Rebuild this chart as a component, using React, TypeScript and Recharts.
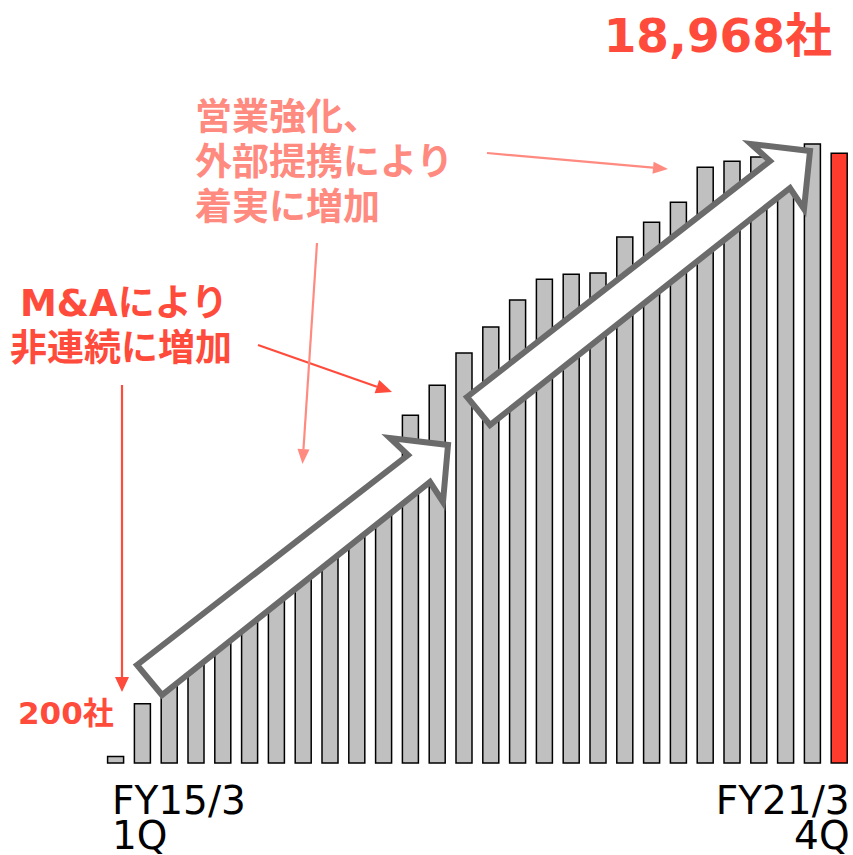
import React from "react"
import { BarChart, Bar, XAxis, YAxis, Cell } from "recharts"

// Quarter labels, FY15/3 1Q .. FY21/3 4Q
const fiscalYears = ["FY15/3", "FY16/3", "FY17/3", "FY18/3", "FY19/3", "FY20/3", "FY21/3"]
const quarters = ["1Q", "2Q", "3Q", "4Q"]

// Number of client companies per quarter
const companies = [
  200, 1840, 2950, 3750, 4400, 5100, 5700, 6350, 7050, 7700, 8450, 10820, 11750, 12750,
  13560, 14400, 15050, 15200, 15240, 16360, 16820, 17440, 18530, 18720, 18850, 19050,
  19250, 18968,
]

const categories = fiscalYears.flatMap((fy) => quarters.map((q) => `${fy} ${q}`))
const data = categories.map((name, i) => ({ name, value: companies[i] }))

const RED = "#ff4b3b"
const PINK = "#ff8a80"
const BAR_GRAY = "#c0c0c0"
const BAR_RED = "#ff3b2e"
const ARROW_GRAY = "#6b6b6b"
const JP_FONT = "'DejaVu Sans', 'Noto Sans CJK JP', sans-serif"

const XTick = (props: any) => {
  const { x, y, index } = props
  const last = data.length - 1
  if (index !== 0 && index !== last) return <g />
  const [fy, q] = data[index].name.split(" ")
  const anchor = index === 0 ? "start" : "end"
  const tx = index === 0 ? x - 4 : x + 10
  return (
    <g fontSize={39} fontFamily="'DejaVu Sans', sans-serif" fill="#000">
      <text x={tx} y={y + 43} textAnchor={anchor}>
        {fy}
      </text>
      <text x={tx} y={y + 78} textAnchor={anchor}>
        {q}
      </text>
    </g>
  )
}

// straight line with a filled triangular head at (x2, y2)
const Arrow = ({ x1, y1, x2, y2, color, len = 15, half = 7 }: any) => {
  const dx = x2 - x1
  const dy = y2 - y1
  const d = Math.hypot(dx, dy)
  const ux = dx / d
  const uy = dy / d
  const bx = x2 - ux * len
  const by = y2 - uy * len
  const pts = `${x2},${y2} ${bx - uy * half},${by + ux * half} ${bx + uy * half},${by - ux * half}`
  return (
    <g>
      <line x1={x1} y1={y1} x2={bx} y2={by} stroke={color} strokeWidth={2.2} />
      <polygon points={pts} fill={color} />
    </g>
  )
}

const App = () => {
  const first = companies[0]
  const last = companies[companies.length - 1]
  return (
    <div style={{ position: "absolute", left: 0, top: 0, width: 853, height: 855, background: "#fff" }}>
      <BarChart
        width={853}
        height={855}
        data={data}
        margin={{ top: 120, right: 0, bottom: 0, left: 102.6 }}
      >
        <XAxis
          dataKey="name"
          interval={0}
          axisLine={false}
          tickLine={false}
          height={92}
          tick={<XTick />}
        />
        <YAxis hide domain={[0, 20000]} />
        <Bar dataKey="value" barSize={16} stroke="#000" strokeWidth={1.5} isAnimationActive={false}>
          {data.map((d, i) => (
            <Cell key={d.name} fill={i === data.length - 1 ? BAR_RED : BAR_GRAY} />
          ))}
        </Bar>
      </BarChart>

      <svg
        width={853}
        height={855}
        style={{ position: "absolute", left: 0, top: 0, pointerEvents: "none" }}
      >
        {/* block arrows */}
        <polygon
          points="137,665 408,455 390,438 448,445 443,502 430,482 162,695"
          fill="#fff"
          stroke={ARROW_GRAY}
          strokeWidth={6}
          strokeLinejoin="miter"
        />
        <polygon
          points="467,397 770,161 751,144 810,151 804,209 790,188 490,425"
          fill="#fff"
          stroke={ARROW_GRAY}
          strokeWidth={6}
          strokeLinejoin="miter"
        />

        {/* callout arrows */}
        <Arrow x1={122} y1={385} x2={122} y2={692} color={RED} />
        <Arrow x1={258} y1={345} x2={392} y2={392} color={RED} len={16} />
        <Arrow x1={317} y1={243} x2={302.5} y2={464} color={PINK} len={15} half={6} />
        <Arrow x1={487} y1={153} x2={668} y2={169} color={PINK} len={15} half={6} />

        <text x={832} y={52} textAnchor="end" fontSize={47} fontWeight="bold" fontFamily={JP_FONT} fill={RED}>
          {`${last.toLocaleString("en-US")}社`}
        </text>
        <text x={18} y={724} fontSize={31} fontWeight="bold" fontFamily={JP_FONT} fill={RED}>
          {`${first}社`}
        </text>

        <g fontSize={37} fontWeight="bold" fontFamily={JP_FONT} fill={RED}>
          <text x={20} y={316}>M&amp;Aにより</text>
          <text x={10} y={361}>非連続に増加</text>
        </g>
        <g fontSize={37} fontWeight="bold" fontFamily={JP_FONT} fill={PINK}>
          <text x={195} y={130}>営業強化、</text>
          <text x={195} y={175}>外部提携により</text>
          <text x={195} y={220}>着実に増加</text>
        </g>
      </svg>
    </div>
  )
}

export default App
